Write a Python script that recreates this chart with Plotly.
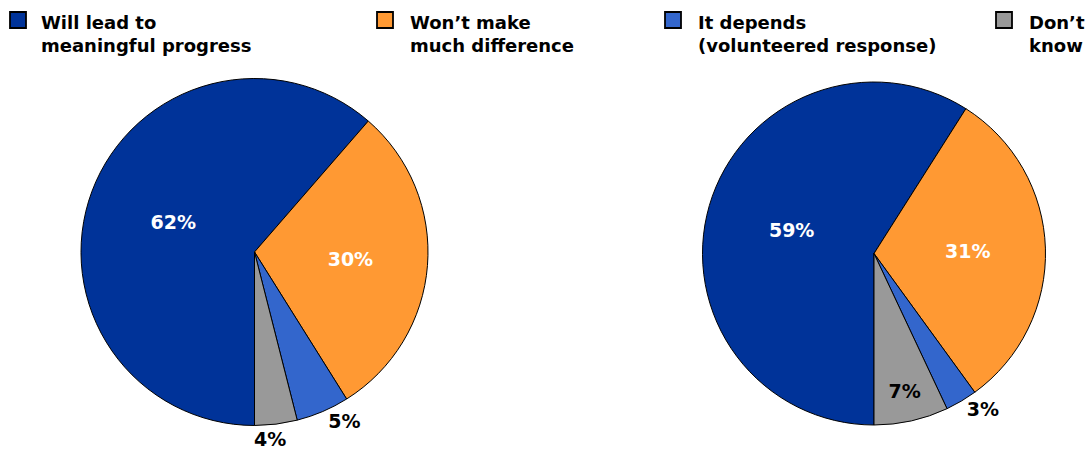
import math
import plotly.graph_objects as go

# positions below are given in viewport pixels (page margin removed at load)
OFF = 0
W, H = 1088, 451

categories = ["Will lead to meaningful progress", "Won’t make much difference",
              "It depends (volunteered response)", "Don’t know"]
legend_labels = ["Will lead to<br>meaningful progress", "Won’t make<br>much difference",
                 "It depends<br>(volunteered response)", "Don’t<br>know"]
left_values = [62, 30, 5, 4]
right_values = [59, 31, 3, 7]
colors = ["#003399", "#FF9933", "#3366CC", "#999999"]

left_textpos = ["inside", "inside", "outside", "none"]
left_textcol = ["white", "white", "black", "black"]
right_textpos = ["inside", "inside", "outside", "inside"]
right_textcol = ["white", "white", "black", "black"]

FONT = "DejaVu Sans"
LABEL_SIZE = 19

# pie geometry in viewport pixels: (centre x, centre y, radius)
LEFT_PIE = (254.5, 252.0, 173.5)
RIGHT_PIE = (874.0, 253.5, 171.5)


def dom(cx, cy, r):
    x0, x1 = cx - r - OFF, cx + r - OFF
    top, bot = cy - r - OFF, cy + r - OFF
    return dict(x=[x0 / W, x1 / W], y=[1 - bot / H, 1 - top / H])


def make_pie(values, textpos, textcol, geom):
    return go.Pie(
        labels=categories, values=values, sort=False, direction="clockwise",
        rotation=180, marker=dict(colors=colors, line=dict(color="black", width=1)),
        text=[f"<b>{v}%</b>" for v in values], textinfo="text",
        textposition=textpos,
        textfont=dict(family=FONT, size=LABEL_SIZE, color=textcol),
        insidetextorientation="horizontal", hoverinfo="label+value",
        domain=dom(*geom), showlegend=False,
    )


fig = go.Figure()
fig.add_trace(make_pie(left_values, left_textpos, left_textcol, LEFT_PIE))
fig.add_trace(make_pie(right_values, right_textpos, right_textcol, RIGHT_PIE))

annotations = []
shapes = []

# outside label of the last (4%) slice of the left pie, placed from its mid-angle
cx, cy, r = LEFT_PIE
total = sum(left_values)
idx = 3
cum = sum(left_values[:idx])
theta = 2 * math.pi * (cum + left_values[idx] / 2) / total  # clockwise from 6 o'clock
lx = cx - (r + 2) * math.sin(theta) - 6
ly = cy + (r + 2) * math.cos(theta)
annotations.append(dict(text=f"<b>{left_values[idx]}%</b>", xref="paper", yref="paper",
                        x=(lx - OFF) / W, y=1 - (ly - OFF) / H,
                        xanchor="center", yanchor="top", showarrow=False,
                        font=dict(family=FONT, size=LABEL_SIZE, color="black")))

# custom legend (squares + two-line labels), viewport pixels
sq_x = [10, 377, 665, 996]
txt_x = [40, 409, 697, 1028]
for i in range(4):
    shapes.append(dict(type="rect", xref="paper", yref="paper",
                       x0=(sq_x[i] - OFF) / W, x1=(sq_x[i] + 16 - OFF) / W,
                       y0=1 - (28 - OFF) / H, y1=1 - (12 - OFF) / H,
                       fillcolor=colors[i], line=dict(color="black", width=1.8)))
    annotations.append(dict(text="<b>" + legend_labels[i] + "</b>", xref="paper", yref="paper",
                            x=(txt_x[i] - 1 - OFF) / W, y=1 - (9.5 - OFF) / H,
                            xanchor="left", yanchor="top",
                            align="left", showarrow=False,
                            font=dict(family=FONT, size=18, color="black")))

fig.update_layout(
    width=W, height=H, margin=dict(l=0, r=0, t=0, b=0),
    paper_bgcolor="white", plot_bgcolor="white",
    shapes=shapes, annotations=annotations,
    font=dict(family=FONT),
)

fig.write_html(
    "out.html",
    config={"displayModeBar": False},
    post_script="document.body.style.margin='0';"
                "document.body.style.overflow='hidden';"
                "document.documentElement.style.overflow='hidden';",
)
